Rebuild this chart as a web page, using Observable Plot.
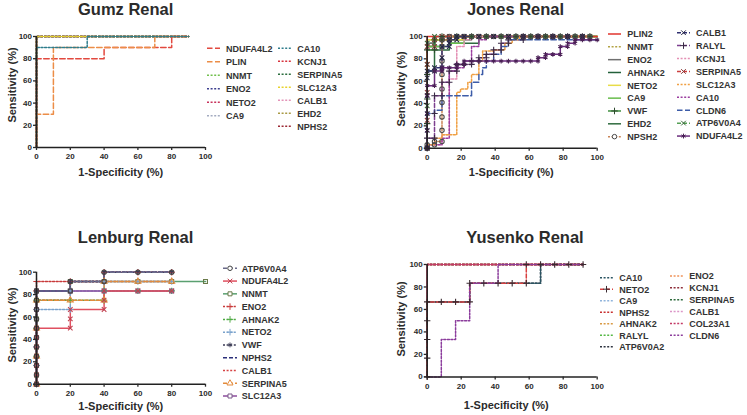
<!DOCTYPE html>
<html><head><meta charset="utf-8">
<script src="https://cdn.jsdelivr.net/npm/d3@7"></script>
<script src="https://cdn.jsdelivr.net/npm/@observablehq/plot@0.6"></script>
<style>
body{margin:0;background:#fff;font-family:"Liberation Sans",Arial,sans-serif;}
#root{position:relative;width:747px;height:415px;overflow:hidden;background:#fff}
</style></head><body><div id="root"></div>
<script>
// ---------------- DATA ----------------
const axisTicks = [0, 20, 40, 60, 80, 100];
const panelTitles = ["Gumz Renal", "Jones Renal", "Lenburg Renal", "Yusenko Renal"];
const xTitle = "1-Specificity (%)";
const yTitle = "Sensitivity (%)";

// Gumz Renal
const gumzLegend1 = ["NDUFA4L2","PLIN","NNMT","ENO2","NETO2","CA9"];
const gumzLegend2 = ["CA10","KCNJ1","SERPINA5","SLC12A3","CALB1","EHD2","NPHS2"];
const gumzNDUFA4L2 = [[0,0],[0,80],[40,80],[40,90],[80,90],[80,100],[90,100]];
const gumzPLIN = [[0,0],[0,30],[10,30],[10,90],[70,90],[70,100],[90,100]];
const gumzNNMT = [[0,0],[0,100],[90,100]];
const gumzENO2 = [[0,0],[0,100],[90,100]];
const gumzNETO2 = [[0,0],[0,100],[90,100]];
const gumzCA9 = [[0,0],[0,100],[90,100]];
const gumzCA10 = [[0,0],[0,90],[30,90],[30,100],[90,100]];
const gumzKCNJ1 = [[0,0],[0,100],[90,100]];
const gumzSERPINA5 = [[0,0],[0,100],[90,100]];
const gumzSLC12A3 = [[0,0],[0,100],[90,100]];
const gumzCALB1 = [[0,0],[0,100],[90,100]];
const gumzEHD2 = [[0,0],[0,100],[90,100]];
const gumzNPHS2 = [[0,0],[0,100],[90,100]];

// Jones Renal
const jonesLegend1 = ["PLIN2","NNMT","ENO2","AHNAK2","NETO2","CA9","VWF","EHD2","NPSH2"];
const jonesLegend2 = ["CALB1","RALYL","KCNJ1","SERPINA5","SLC12A3","CA10","CLDN6","ATP6V0A4","NDUFA4L2"];
const jonesPLIN2 = [[0,0],[0,100],[100,100]];
const jonesNNMT = [[0,0],[0,97],[8.7,97],[8.7,100],[100,100]];
const jonesENO2 = [[0,0],[0,94],[4.3,94],[4.3,100],[100,100]];
const jonesAHNAK2 = [[0,0],[0,91],[8.7,91],[8.7,97],[26.1,97],[26.1,100],[100,100]];
const jonesNETO2 = [[0,0],[0,97],[21.7,97],[21.7,100],[100,100]];
const jonesCA9 = [[0,0],[0,91],[13,91],[13,94],[21.7,94],[21.7,100],[100,100]];
const jonesVWF = [[0,0],[0,22],[0,44],[0,66],[0,88],[4.3,88],[4.3,97],[8.7,97],[8.7,100],[17.4,100],[26.1,100],[34.8,100],[43.5,100],[52.2,100],[60.9,100],[69.6,100],[78.3,100],[87,100],[95.7,100]];
const jonesEHD2 = [[0,0],[0,69],[4.3,69],[4.3,88],[13,88],[13,94],[30.4,94],[30.4,100],[100,100]];
const jonesNPSH2 = [[0,0],[0,3],[4.3,3],[4.3,6],[8.7,6],[8.7,16],[8.7,28],[8.7,41],[8.7,53],[8.7,66],[8.7,78],[8.7,91],[8.7,97],[13,97],[13,100],[17.4,100],[21.7,100],[26.1,100],[30.4,100],[34.8,100],[39.1,100],[43.5,100],[47.8,100],[52.2,100],[56.5,100],[60.9,100],[65.2,100],[69.6,100],[73.9,100],[78.3,100],[82.6,100],[87,100],[91.3,100],[95.7,100]];
const jonesCALB1 = [[0,0],[0,16],[0,31],[0,47],[0,63],[0,69],[4.3,69],[4.3,72],[8.7,72],[8.7,81],[8.7,91],[13,91],[13,94],[13,97],[17.4,97],[17.4,100],[21.7,100],[30.4,100],[39.1,100],[47.8,100],[56.5,100],[65.2,100],[73.9,100],[82.6,100],[91.3,100]];
const jonesRALYL = [[0,0],[0,9],[4.3,9],[4.3,31],[4.3,47],[8.7,47],[8.7,59],[13,59],[13,69],[17.4,69],[17.4,75],[21.7,75],[26.1,75],[26.1,78],[30.4,78],[30.4,81],[34.8,81],[34.8,84],[39.1,84],[39.1,88],[43.5,88],[43.5,94],[47.8,94],[47.8,97],[56.5,97],[56.5,100],[65.2,100],[73.9,100],[82.6,100],[91.3,100]];
const jonesKCNJ1 = [[0,0],[0,3],[8.7,3],[8.7,12],[13,12],[13,62],[17.4,62],[17.4,81],[17.4,91],[21.7,91],[21.7,97],[26.1,97],[26.1,100],[95.7,100]];
const jonesSERPINA5 = [[0,0],[0,25],[0,50],[0,75],[0,91],[4.3,91],[4.3,97],[8.7,97],[8.7,100],[13,100],[21.7,100],[30.4,100],[39.1,100],[47.8,100],[56.5,100],[65.2,100],[73.9,100],[82.6,100],[91.3,100]];
const jonesSLC12A3 = [[0,0],[0,3],[4.3,3],[4.3,9],[8.7,9],[8.7,12],[17.4,12],[17.4,50],[19.6,50],[19.6,53],[23.9,53],[23.9,59],[26.1,59],[26.1,66],[30.4,66],[30.4,78],[32.6,78],[32.6,87],[39.1,87],[39.1,88],[45.7,88],[45.7,94],[50,94],[50,97],[54.3,97],[54.3,100],[95.7,100]];
const jonesCA10 = [[0,0],[0,3],[8.7,3],[8.7,9],[13,9],[13,69],[17.4,69],[17.4,72],[21.7,72],[21.7,78],[26.1,78],[26.1,91],[30.4,91],[30.4,97],[34.8,97],[34.8,100],[95.7,100]];
const jonesCLDN6 = [[0,0],[0,6],[0,31],[4.3,31],[4.3,34],[8.7,34],[8.7,47],[26.1,47],[26.1,59],[30.4,59],[30.4,66],[32.6,66],[32.6,72],[34.8,72],[34.8,78],[39.1,78],[39.1,84],[43.5,84],[43.5,91],[47.8,91],[47.8,97],[100,97]];
const jonesATP6V0A4 = [[0,0],[0,38],[0,75],[0,94],[4.3,94],[4.3,100],[8.7,100],[17.4,100],[26.1,100],[34.8,100],[43.5,100],[52.2,100],[60.9,100],[69.6,100],[78.3,100],[87,100],[95.7,100]];
const jonesNDUFA4L2 = [[0,0],[0,16],[0,31],[0,47],[0,56],[4.3,56],[4.3,69],[8.7,69],[8.7,72],[13,72],[17.4,72],[17.4,75],[21.7,75],[21.7,78],[26.1,78],[30.4,78],[34.8,78],[39.1,78],[43.5,78],[47.8,78],[52.2,78],[56.5,78],[60.9,78],[65.2,78],[65.2,81],[69.6,81],[69.6,84],[73.9,84],[78.3,84],[78.3,91],[82.6,91],[82.6,94],[87,94],[87,97],[91.3,97],[95.7,97],[100,97]];

// Lenburg Renal
const lenLegend = ["ATP6V0A4","NDUFA4L2","NNMT","ENO2","AHNAK2","NETO2","VWF","NPHS2","CALB1","SERPINA5","SLC12A3"];
const lenATP6V0A4 = [[0,0],[0,8.3],[0,16.7],[0,25],[0,33.3],[0,41.7],[0,50],[0,58.3],[0,66.7],[0,75],[0,83.3],[20,83.3],[20,91.7],[40,91.7],[40,100],[60,100],[80,100]];
const lenNDUFA4L2 = [[0,0],[0,8.3],[0,16.7],[0,25],[0,33.3],[0,41.7],[0,50],[20,50],[20,58.3],[20,66.7],[40,66.7],[40,75],[40,83.3],[60,83.3],[80,83.3]];
const lenNNMT = [[0,0],[0,8.3],[0,16.7],[0,25],[0,33.3],[0,41.7],[0,50],[0,58.3],[0,66.7],[0,75],[0,83.3],[20,83.3],[20,91.7],[40,91.7],[60,91.7],[80,91.7],[100,91.7]];
const lenENO2 = [[0,0],[0,16.7],[0,33.3],[0,50],[0,66.7],[0,83.3],[0,91.7],[20,91.7],[40,91.7],[40,100],[60,100],[80,100]];
const lenAHNAK2 = [[0,0],[0,25],[0,50],[0,75],[20,75],[40,75],[40,83.3],[60,83.3],[80,83.3]];
const lenNETO2 = [[0,0],[0,16.7],[0,33.3],[0,50],[0,66.7],[20,66.7],[20,83.3],[40,83.3],[40,91.7],[60,91.7],[80,91.7]];
const lenVWF = [[0,0],[0,25],[0,50],[0,83.3],[20,83.3],[20,91.7],[40,91.7],[40,100],[60,100],[80,100]];
const lenNPHS2 = [[0,0],[0,83.3],[20,83.3],[20,91.7],[40,91.7],[40,100],[80,100]];
const lenCALB1 = [[0,0],[0,75],[20,75],[20,91.7],[80,91.7]];
const lenSERPINA5 = [[0,0],[0,25],[0,50],[0,75],[20,75],[40,75],[40,91.7],[60,91.7],[80,91.7]];
const lenSLC12A3 = [[0,0],[0,16.7],[0,41.7],[0,66.7],[0,83.3],[20,83.3],[40,83.3],[60,83.3],[80,83.3]];

// Yusenko Renal
const yusLegend1 = ["CA10","NETO2","CA9","NPHS2","AHNAK2","RALYL","ATP6V0A2"];
const yusLegend2 = ["ENO2","KCNJ1","SERPINA5","CALB1","COL23A1","CLDN6"];
const yusCA10 = [[0,0],[0,66.7],[25,66.7],[25,83.3],[66.7,83.3],[66.7,100],[91.7,100]];
const yusNETO2 = [[0,0],[0,16.7],[0,33.3],[0,50],[0,66.7],[8.3,66.7],[16.7,66.7],[25,66.7],[25,83.3],[33.3,83.3],[41.7,83.3],[50,83.3],[58.3,83.3],[58.3,100],[66.7,100],[75,100],[83.3,100],[91.7,100]];
const yusCA9 = [[0,0],[0,100],[91.7,100]];
const yusNPHS2 = [[0,0],[0,100],[91.7,100]];
const yusAHNAK2 = [[0,0],[0,100],[91.7,100]];
const yusRALYL = [[0,0],[0,100],[91.7,100]];
const yusATP6V0A2 = [[0,0],[0,66.7],[25,66.7],[25,83.3],[66.7,83.3],[66.7,100],[91.7,100]];
const yusENO2 = [[0,0],[0,100],[91.7,100]];
const yusKCNJ1 = [[0,0],[0,100],[91.7,100]];
const yusSERPINA5 = [[0,0],[0,100],[91.7,100]];
const yusCALB1 = [[0,0],[0,100],[91.7,100]];
const yusCOL23A1 = [[0,0],[0,100],[91.7,100]];
const yusCLDN6 = [[0,0],[8.3,0],[8.3,16.7],[8.3,33.3],[16.7,33.3],[16.7,50],[25,50],[25,66.7],[25,83.3],[33.3,83.3],[41.7,83.3],[41.7,100],[91.7,100]];

// ---------------- STYLES ----------------
const DOT = "2,1.6", DASH = "4,2", LONG = "5.5,2.5";
const gumzStyle = {
  NDUFA4L2:{c:"#e2493f",d:LONG}, PLIN:{c:"#ec8d47",d:LONG}, NNMT:{c:"#72c04e",d:DOT}, ENO2:{c:"#3d3f8f",d:DOT},
  NETO2:{c:"#c8335c",d:DOT}, CA9:{c:"#a3abc0",d:DOT}, CA10:{c:"#2e7d8c",d:DOT}, KCNJ1:{c:"#d7333d",d:DOT},
  SERPINA5:{c:"#2c6e3f",d:DOT}, SLC12A3:{c:"#e8d22c",d:DOT}, CALB1:{c:"#e394b8",d:DOT}, EHD2:{c:"#a99a45",d:DOT},
  NPHS2:{c:"#9c2a35",d:DOT}
};
const gumzData = {NDUFA4L2:gumzNDUFA4L2,PLIN:gumzPLIN,NNMT:gumzNNMT,ENO2:gumzENO2,NETO2:gumzNETO2,CA9:gumzCA9,CA10:gumzCA10,KCNJ1:gumzKCNJ1,SERPINA5:gumzSERPINA5,SLC12A3:gumzSLC12A3,CALB1:gumzCALB1,EHD2:gumzEHD2,NPHS2:gumzNPHS2};
const gumzOrder = ["NPHS2","EHD2","CALB1","SERPINA5","KCNJ1","CA9","NETO2","NNMT","ENO2","SLC12A3","NDUFA4L2","PLIN","CA10"];

const jonesStyle = {
  PLIN2:{c:"#e0352e"}, NNMT:{c:"#b3a345",d:DOT}, ENO2:{c:"#707070"}, AHNAK2:{c:"#23603a"},
  NETO2:{c:"#e8dc48"}, CA9:{c:"#68bd4c"}, VWF:{c:"#3f8f3f",s:"plus",mc:"#2d4a2d"}, EHD2:{c:"#2e6b3e"},
  NPSH2:{c:"#c98558",d:DOT,s:"circle",mc:"#4a4a4a"},
  CALB1:{c:"#303070",d:DASH,s:"times",mc:"#252545"}, RALYL:{c:"#7d3f8f",d:DASH,s:"plus",mc:"#3a2a45"},
  KCNJ1:{c:"#e48fb4",d:DOT}, SERPINA5:{c:"#cc3f3f",d:DASH,s:"times",mc:"#8a3a3a"},
  SLC12A3:{c:"#f0a043",d:DOT}, CA10:{c:"#9b3d9f",d:DOT}, CLDN6:{c:"#3d5ca8",d:LONG},
  ATP6V0A4:{c:"#55a055",d:DASH,s:"times",mc:"#3a6a3a"}, NDUFA4L2:{c:"#6b2d7d",s:"asterisk",mc:"#4a2055"}
};
const jonesData = {PLIN2:jonesPLIN2,NNMT:jonesNNMT,ENO2:jonesENO2,AHNAK2:jonesAHNAK2,NETO2:jonesNETO2,CA9:jonesCA9,VWF:jonesVWF,EHD2:jonesEHD2,NPSH2:jonesNPSH2,CALB1:jonesCALB1,RALYL:jonesRALYL,KCNJ1:jonesKCNJ1,SERPINA5:jonesSERPINA5,SLC12A3:jonesSLC12A3,CA10:jonesCA10,CLDN6:jonesCLDN6,ATP6V0A4:jonesATP6V0A4,NDUFA4L2:jonesNDUFA4L2};
const jonesOrder = ["ATP6V0A4","SERPINA5","VWF","NNMT","ENO2","AHNAK2","EHD2","CA9","NETO2","PLIN2","NPSH2","CALB1","RALYL","KCNJ1","CA10","SLC12A3","CLDN6","NDUFA4L2"];

const lenStyle = {
  ATP6V0A4:{c:"#6a6a8a",d:DASH,s:"circle",mc:"#444"}, NDUFA4L2:{c:"#e05060",s:"times",mc:"#c04050"},
  NNMT:{c:"#5aa070",s:"square",mc:"#6a7a4a"}, ENO2:{c:"#c83a3a",d:DOT,s:"plus"}, AHNAK2:{c:"#4faa44",d:DOT,s:"plus"},
  NETO2:{c:"#7aa2cc",d:DOT,s:"plus"}, VWF:{c:"#3b3b55",d:DOT,s:"asterisk"}, NPHS2:{c:"#2b2f7a",d:DASH},
  CALB1:{c:"#d64444",d:DOT}, SERPINA5:{c:"#e38b3c",d:DASH,s:"triangle"}, SLC12A3:{c:"#8d4d9d",s:"square",mc:"#7a5a8a"}
};
const lenData = {ATP6V0A4:lenATP6V0A4,NDUFA4L2:lenNDUFA4L2,NNMT:lenNNMT,ENO2:lenENO2,AHNAK2:lenAHNAK2,NETO2:lenNETO2,VWF:lenVWF,NPHS2:lenNPHS2,CALB1:lenCALB1,SERPINA5:lenSERPINA5,SLC12A3:lenSLC12A3};
const lenOrder = ["NNMT","CALB1","ENO2","VWF","NETO2","AHNAK2","SERPINA5","SLC12A3","NDUFA4L2","NPHS2","ATP6V0A4"];

const yusStyle = {
  CA10:{c:"#2a5462",d:DOT}, NETO2:{c:"#d84040",d:DASH,s:"plus",mc:"#3a2a30"}, CA9:{c:"#90b4dc",d:DOT},
  NPHS2:{c:"#c83030",d:DOT}, AHNAK2:{c:"#d99a45",d:DOT}, RALYL:{c:"#55b845",d:DOT}, ATP6V0A2:{c:"#2e3440",d:DOT},
  ENO2:{c:"#f0935a",d:DOT}, KCNJ1:{c:"#8e2e3a",d:DOT}, SERPINA5:{c:"#2d6a3c",d:DOT}, CALB1:{c:"#dc96c8",d:DOT},
  COL23A1:{c:"#c43a66",d:DOT}, CLDN6:{c:"#8b3c9c",d:DOT}
};
const yusData = {CA10:yusCA10,NETO2:yusNETO2,CA9:yusCA9,NPHS2:yusNPHS2,AHNAK2:yusAHNAK2,RALYL:yusRALYL,ATP6V0A2:yusATP6V0A2,ENO2:yusENO2,KCNJ1:yusKCNJ1,SERPINA5:yusSERPINA5,CALB1:yusCALB1,COL23A1:yusCOL23A1,CLDN6:yusCLDN6};
const yusOrder = ["CA9","RALYL","AHNAK2","ENO2","SERPINA5","KCNJ1","NPHS2","CALB1","COL23A1","ATP6V0A2","CA10","NETO2","CLDN6"];

// ---------------- DRAW ----------------
const FONT = "'Liberation Sans', Arial, sans-serif";
const root = document.getElementById("root");

function panel(p) {
  const marks = [];
  for (const n of p.order) {
    const st = p.style[n];
    const pts = p.data[n].map(([x, y]) => ({x, y}));
    const o = {x: "x", y: "y", curve: "step-after", stroke: st.c, strokeWidth: 1.5};
    if (st.d) o.strokeDasharray = st.d;
    marks.push(Plot.line(pts, o));
  }
  for (const n of p.order) {
    const st = p.style[n];
    if (!st.s) continue;
    const pts = p.data[n].map(([x, y]) => ({x, y}));
    marks.push(Plot.dot(pts, {x: "x", y: "y", symbol: st.s, r: 2.2, stroke: st.mc || st.c, fill: "none", strokeWidth: 1.1}));
  }
  marks.push(
    Plot.ruleY([0], {stroke: "#222", strokeWidth: 1.5}),
    Plot.ruleX([0], {stroke: "#222", strokeWidth: 1.5}),
    Plot.axisX({ticks: axisTicks, tickSize: 3, tickPadding: 3, fontSize: 8, fontWeight: "bold", label: null, strokeWidth: 1.3}),
    Plot.axisY({ticks: axisTicks, tickSize: 3, tickPadding: 1.5, fontSize: 8, fontWeight: "bold", label: null, strokeWidth: 1.3})
  );
  const svg = Plot.plot({
    width: p.w, height: p.h,
    marginLeft: p.ml, marginRight: p.mr, marginTop: p.mt, marginBottom: p.mb,
    x: {domain: [0, 100]}, y: {domain: [0, 100]},
    style: {background: "transparent", color: "#2a2a2a", fontFamily: FONT, overflow: "visible"},
    marks
  });
  svg.style.position = "absolute";
  svg.style.left = p.left + "px";
  svg.style.top = p.top + "px";
  svg.style.maxWidth = "none";
  root.appendChild(svg);
}

panel({left: 0, top: 0, w: 215, h: 162, ml: 36, mr: 10, mt: 36, mb: 15, data: gumzData, style: gumzStyle, order: gumzOrder});
panel({left: 390, top: 0, w: 216.7, h: 162.7, ml: 36.7, mr: 10, mt: 36, mb: 15, data: jonesData, style: jonesStyle, order: jonesOrder});
panel({left: 0, top: 236, w: 215, h: 162.7, ml: 36, mr: 10, mt: 35.7, mb: 15, data: lenData, style: lenStyle, order: lenOrder});
panel({left: 390, top: 228.3, w: 216.7, h: 163.4, ml: 36.7, mr: 10, mt: 36, mb: 15, data: yusData, style: yusStyle, order: yusOrder});

// overlay: titles, axis titles, legends
const ov = d3.select(root).append("svg")
  .attr("width", 747).attr("height", 415)
  .style("position", "absolute").style("left", "0px").style("top", "0px")
  .style("font-family", FONT);

function txt(x, y, s, size, anchor, rot) {
  const t = ov.append("text").attr("x", x).attr("y", y).text(s)
    .attr("font-size", size).attr("font-weight", "bold").attr("fill", "#2b2b2b")
    .attr("text-anchor", anchor || "middle");
  if (rot) t.attr("transform", `rotate(-90 ${x} ${y})`);
  return t;
}
// titles
txt(125.7, 14.5, panelTitles[0], 16.5);
txt(515.5, 14.5, panelTitles[1], 16.5);
txt(135.6, 242.5, panelTitles[2], 16.5);
txt(525, 242.5, panelTitles[3], 16.5);
// x titles
txt(120.8, 175.5, xTitle, 11);
txt(511.3, 175.5, xTitle, 11);
txt(120.8, 409.8, xTitle, 11);
txt(506.3, 409.3, xTitle, 11);
// y titles
txt(15.5, 85, yTitle, 11, "middle", true);
txt(404.5, 89, yTitle, 11, "middle", true);
txt(15.5, 325, yTitle, 11, "middle", true);
txt(404.5, 319, yTitle, 11, "middle", true);

const symMap = {circle: d3.symbolCircle, plus: d3.symbolPlus, times: d3.symbolTimes, asterisk: d3.symbolAsterisk,
  square: d3.symbolSquare, triangle: d3.symbolTriangle, diamond: d3.symbolDiamond};

function legend(names, style, sx0, sx1, tx, y0, dy) {
  names.forEach((n, i) => {
    const st = style[n];
    const y = y0 + i * dy;
    const l = ov.append("line").attr("x1", sx0).attr("x2", sx1).attr("y1", y).attr("y2", y)
      .attr("stroke", st.c).attr("stroke-width", 1.5);
    if (st.d) l.attr("stroke-dasharray", st.d);
    if (st.s) {
      ov.append("path").attr("d", d3.symbol(symMap[st.s], 16)())
        .attr("transform", `translate(${(sx0 + sx1) / 2},${y})`)
        .attr("fill", st.s === "circle" || st.s === "square" || st.s === "triangle" ? "#fff" : "none")
        .attr("stroke", st.mc || st.c).attr("stroke-width", 1);
    }
    ov.append("text").attr("x", tx).attr("y", y + 3.3).text(n)
      .attr("font-size", 9).attr("font-weight", "bold").attr("fill", "#333");
  });
}
legend(gumzLegend1, gumzStyle, 207, 220, 226, 48.3, 13.5);
legend(gumzLegend2, gumzStyle, 278, 291, 297.3, 48.3, 13);
legend(jonesLegend1, jonesStyle, 608, 621, 627.3, 34, 12.83);
legend(jonesLegend2, jonesStyle, 677, 690, 696, 32.7, 12.92);
legend(lenLegend, lenStyle, 223, 237, 241.7, 268.3, 12.77);
legend(yusLegend1, yusStyle, 600, 613, 619.3, 277.7, 11.5);
legend(yusLegend2, yusStyle, 670, 683, 689.3, 276, 11.87);
</script></body></html>
